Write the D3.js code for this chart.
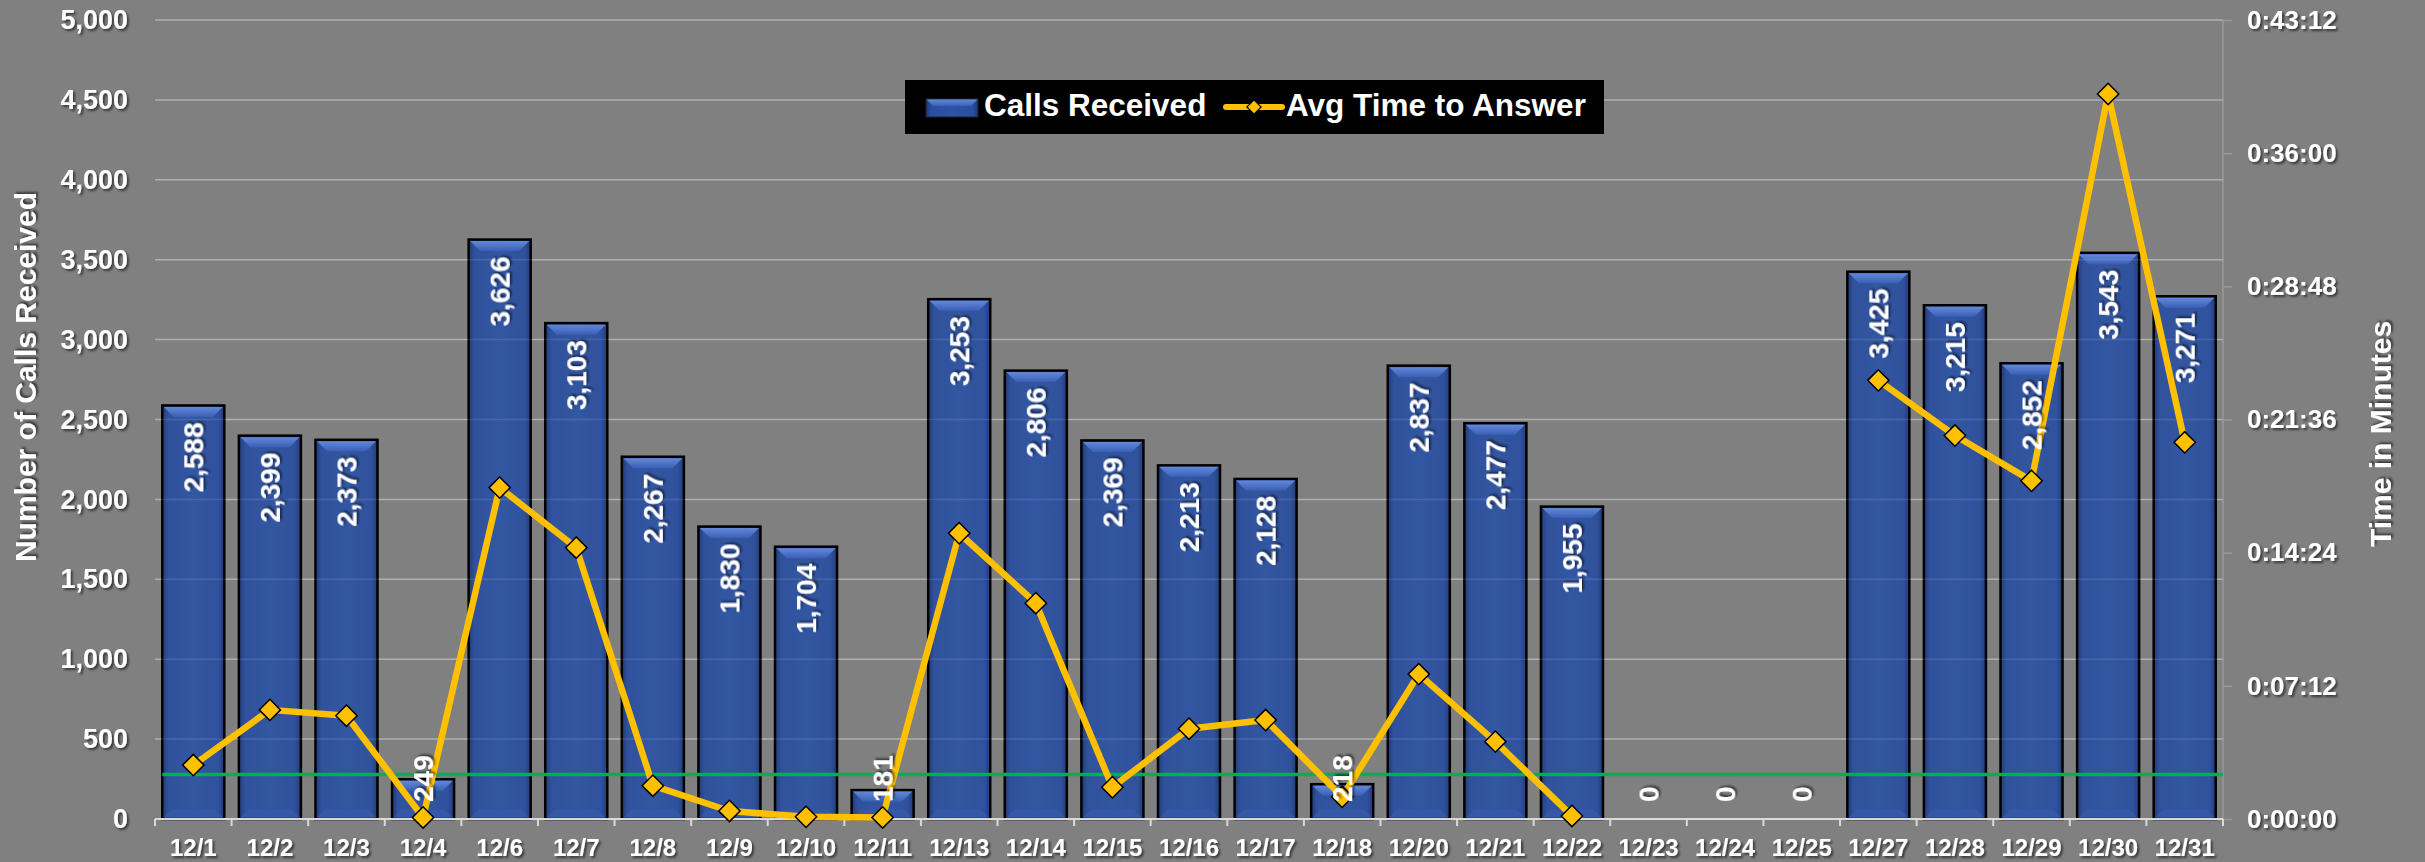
<!DOCTYPE html>
<html>
<head>
<meta charset="utf-8">
<script src="https://cdn.jsdelivr.net/npm/d3@7"></script>
<style>
  html, body { margin: 0; padding: 0; background: #808080; }
  svg { display: block; font-family: "Liberation Sans", Arial, sans-serif; font-weight: bold; }
</style>
</head>
<body>
<svg id="chart" width="2425" height="862"></svg>
<script>
// December call-center activity
const days = ["12/1","12/2","12/3","12/4","12/6","12/7","12/8","12/9","12/10","12/11",
  "12/13","12/14","12/15","12/16","12/17","12/18","12/20","12/21","12/22","12/23",
  "12/24","12/25","12/27","12/28","12/29","12/30","12/31"];
const callsReceived = [2588, 2399, 2373, 249, 3626, 3103, 2267, 1830, 1704, 181,
  3253, 2806, 2369, 2213, 2128, 218, 2837, 2477, 1955, 0,
  0, 0, 3425, 3215, 2852, 3543, 3271];
// average time to answer, in seconds (no data on closed days)
const avgAnswerSeconds = [175, 354, 335, 5, 1075, 880, 108, 26, 7, 5,
  927, 700, 103, 293, 321, 72, 470, 251, 10, null,
  null, null, 1423, 1244, 1097, 2352, 1222];
const callTicks = [0, 500, 1000, 1500, 2000, 2500, 3000, 3500, 4000, 4500, 5000];
const timeTicks = [0, 432, 864, 1296, 1728, 2160, 2592];
const targetSeconds = 144;

const svg = d3.select("#chart");
const plot = { left: 155, right: 2223, top: 20, bottom: 819 };

const defs = svg.append("defs");
const shadow = defs.append("filter").attr("id", "txtShadow")
  .attr("x", "-20%").attr("y", "-20%").attr("width", "140%").attr("height", "140%");
shadow.append("feDropShadow").attr("dx", 2).attr("dy", 2).attr("stdDeviation", 1.2)
  .attr("flood-color", "#000").attr("flood-opacity", 0.55);

const sideGrad = defs.append("linearGradient").attr("id", "barSide")
  .attr("x1", "0").attr("x2", "1").attr("y1", "0").attr("y2", "0");
[["0%", "#1b3676"], ["10%", "#2a4e9f"], ["50%", "#2d53a4"], ["90%", "#2a4e9f"], ["100%", "#1b3676"]]
  .forEach(([o, c]) => sideGrad.append("stop").attr("offset", o).attr("stop-color", c));
const topGrad = defs.append("linearGradient").attr("id", "barTop")
  .attr("x1", "0").attr("x2", "0").attr("y1", "0").attr("y2", "1");
[["0%", "#6388da"], ["100%", "#3a60b6"]]
  .forEach(([o, c]) => topGrad.append("stop").attr("offset", o).attr("stop-color", c));

const x = d3.scaleBand().domain(days).range([plot.left, plot.right])
  .paddingInner(0.19).paddingOuter(0.095);
const yCalls = d3.scaleLinear().domain([0, 5000]).range([plot.bottom, plot.top]);
const yTime = d3.scaleLinear().domain([0, 2592]).range([plot.bottom, plot.top]);

const fmtTime = s => {
  const h = Math.floor(s / 3600), m = Math.floor((s % 3600) / 60), sec = Math.round(s % 60);
  return `${h}:${String(m).padStart(2, "0")}:${String(sec).padStart(2, "0")}`;
};

// horizontal gridlines
svg.append("g").selectAll("line").data(callTicks.slice(1)).join("line")
  .attr("x1", plot.left).attr("x2", plot.right)
  .attr("y1", d => yCalls(d)).attr("y2", d => yCalls(d))
  .attr("stroke", "#a6a6a6").attr("stroke-width", 1.5);

// left axis labels
const leftAxis = svg.append("g").attr("transform", `translate(${plot.left},0)`)
  .call(d3.axisLeft(yCalls).tickValues(callTicks).tickFormat(d3.format(",")).tickSize(0).tickPadding(27));
leftAxis.select(".domain").remove();
leftAxis.selectAll("text").attr("fill", "#fff").attr("font-size", 27)
  .attr("font-family", "Liberation Sans, Arial, sans-serif").attr("font-weight", "bold")
  .attr("filter", "url(#txtShadow)");

// right axis
const rightAxis = svg.append("g").attr("transform", `translate(${plot.right},0)`)
  .call(d3.axisRight(yTime).tickValues(timeTicks).tickFormat(fmtTime).tickSize(9).tickPadding(15));
rightAxis.select(".domain").attr("stroke", "#9a9a9a").attr("stroke-width", 1.5)
  .attr("d", `M0,${plot.top}V${plot.bottom}`);
rightAxis.selectAll("line").attr("stroke", "#9a9a9a").attr("stroke-width", 1.5);
rightAxis.selectAll("text").attr("fill", "#fff").attr("font-size", 26)
  .attr("font-family", "Liberation Sans, Arial, sans-serif").attr("font-weight", "bold")
  .attr("filter", "url(#txtShadow)");

// bars
const barData = days.map((d, i) => ({ day: d, v: callsReceived[i] }));
const bars = svg.append("g").selectAll("g").data(barData.filter(d => d.v > 0)).join("g");
bars.append("rect")
  .attr("x", d => x(d.day)).attr("width", x.bandwidth())
  .attr("y", d => yCalls(d.v)).attr("height", d => plot.bottom - yCalls(d.v))
  .attr("fill", "url(#barSide)").attr("fill-opacity", 0.93)
  .attr("stroke", "#000").attr("stroke-width", 2.5);
bars.append("polygon")
  .attr("points", d => {
    const x0 = x(d.day) + 1.5, x1 = x(d.day) + x.bandwidth() - 1.5, t = yCalls(d.v) + 1.5, b = 10;
    return [[x0, t], [x1, t], [x1 - b, t + b], [x0 + b, t + b]].join(" ");
  })
  .attr("fill", "url(#barTop)");
bars.append("polygon")
  .attr("points", d => {
    const x0 = x(d.day) + 1.5, x1 = x(d.day) + x.bandwidth() - 1.5, bt = plot.bottom - 1.5, b = 8;
    return [[x0 + b, bt - b], [x1 - b, bt - b], [x1, bt], [x0, bt]].join(" ");
  })
  .attr("fill", "#3659a9").attr("fill-opacity", 0.85);

// faint gridlines showing through the bars
svg.append("g").selectAll("line").data(callTicks.slice(1)).join("line")
  .attr("x1", plot.left).attr("x2", plot.right)
  .attr("y1", d => yCalls(d)).attr("y2", d => yCalls(d))
  .attr("stroke", "#ffffff").attr("stroke-opacity", 0.1).attr("stroke-width", 1.5);

// bottom axis
const xAxis = svg.append("g").attr("transform", `translate(0,${plot.bottom})`)
  .call(d3.axisBottom(x).tickSize(0).tickPadding(20));
xAxis.select(".domain").attr("stroke", "#d9d9d9").attr("stroke-width", 2)
  .attr("d", `M${plot.left},0H${plot.right}`);
xAxis.selectAll("text").attr("fill", "#fff").attr("font-size", 24)
  .attr("font-family", "Liberation Sans, Arial, sans-serif").attr("font-weight", "bold")
  .attr("filter", "url(#txtShadow)");
xAxis.append("g").selectAll("line").data(d3.range(days.length + 1)).join("line")
  .attr("x1", i => plot.left + i * x.step()).attr("x2", i => plot.left + i * x.step())
  .attr("y1", 0).attr("y2", 7).attr("stroke", "#d9d9d9").attr("stroke-width", 2);

// target answer time
svg.append("line")
  .attr("x1", x(days[0])).attr("x2", plot.right)
  .attr("y1", yTime(targetSeconds)).attr("y2", yTime(targetSeconds))
  .attr("stroke", "#00b050").attr("stroke-width", 3.5);

// average time to answer
const pts = days.map((d, i) => ({ day: d, s: avgAnswerSeconds[i] }));
const line = d3.line().defined(d => d.s !== null)
  .x(d => x(d.day) + x.bandwidth() / 2).y(d => yTime(d.s));
svg.append("path").datum(pts).attr("d", line)
  .attr("fill", "none").attr("stroke", "#ffc000").attr("stroke-width", 6.5)
  .attr("stroke-linejoin", "round");
const diamond = d3.symbol().type(d3.symbolDiamond2).size(290);
svg.append("g").selectAll("path").data(pts.filter(d => d.s !== null)).join("path")
  .attr("d", diamond)
  .attr("transform", d => `translate(${x(d.day) + x.bandwidth() / 2},${yTime(d.s)})`)
  .attr("fill", "#ffc000").attr("stroke", "#000").attr("stroke-width", 1.5);

// value labels inside the top of each bar
const fmtCalls = d3.format(",");
svg.append("g").selectAll("text").data(barData).join("text")
  .attr("fill", "#fff").attr("font-size", 28).attr("filter", "url(#txtShadow)")
  .attr("dy", "0.36em")
  .text(d => fmtCalls(d.v))
  .each(function (d) {
    const len = this.getComputedTextLength();
    const cx = x(d.day) + x.bandwidth() / 2;
    const yEnd = yCalls(d.v) + 17;
    const lowest = plot.bottom - 17;
    const sel = d3.select(this);
    if (yEnd + len > lowest) {
      sel.attr("text-anchor", "start").attr("transform", `translate(${cx},${lowest}) rotate(-90)`);
    } else {
      sel.attr("text-anchor", "end").attr("transform", `translate(${cx},${yEnd}) rotate(-90)`);
    }
  });

// axis titles
svg.append("text").attr("transform", "translate(36,377) rotate(-90)")
  .attr("text-anchor", "middle").attr("fill", "#fff").attr("font-size", 30)
  .attr("filter", "url(#txtShadow)").text("Number of Calls Received");
svg.append("text").attr("transform", "translate(2391,434) rotate(-90)")
  .attr("text-anchor", "middle").attr("fill", "#fff").attr("font-size", 30)
  .attr("filter", "url(#txtShadow)").text("Time in Minutes");

// legend
const legend = svg.append("g");
legend.append("rect").attr("x", 905).attr("y", 80).attr("width", 699).attr("height", 54).attr("fill", "#000");
legend.append("rect").attr("x", 926).attr("y", 99).attr("width", 52).attr("height", 18)
  .attr("fill", "url(#barSide)").attr("stroke", "#222").attr("stroke-width", 1);
legend.append("polygon").attr("points", [[926.5, 99.5], [977.5, 99.5], [971, 106], [933, 106]].join(" "))
  .attr("fill", "url(#barTop)");
legend.append("line").attr("x1", 1226).attr("x2", 1282).attr("y1", 107).attr("y2", 107)
  .attr("stroke", "#ffc000").attr("stroke-width", 6).attr("stroke-linecap", "round");
legend.append("path").attr("d", d3.symbol().type(d3.symbolDiamond2).size(130))
  .attr("transform", "translate(1254,107)")
  .attr("fill", "#ffc000").attr("stroke", "#000").attr("stroke-width", 1.2);
legend.append("text").attr("x", 984).attr("y", 116).attr("fill", "#fff").attr("font-size", 31.5)
  .text("Calls Received");
legend.append("text").attr("x", 1286).attr("y", 116).attr("fill", "#fff").attr("font-size", 31.5)
  .text("Avg Time to Answer");
</script>
</body>
</html>
